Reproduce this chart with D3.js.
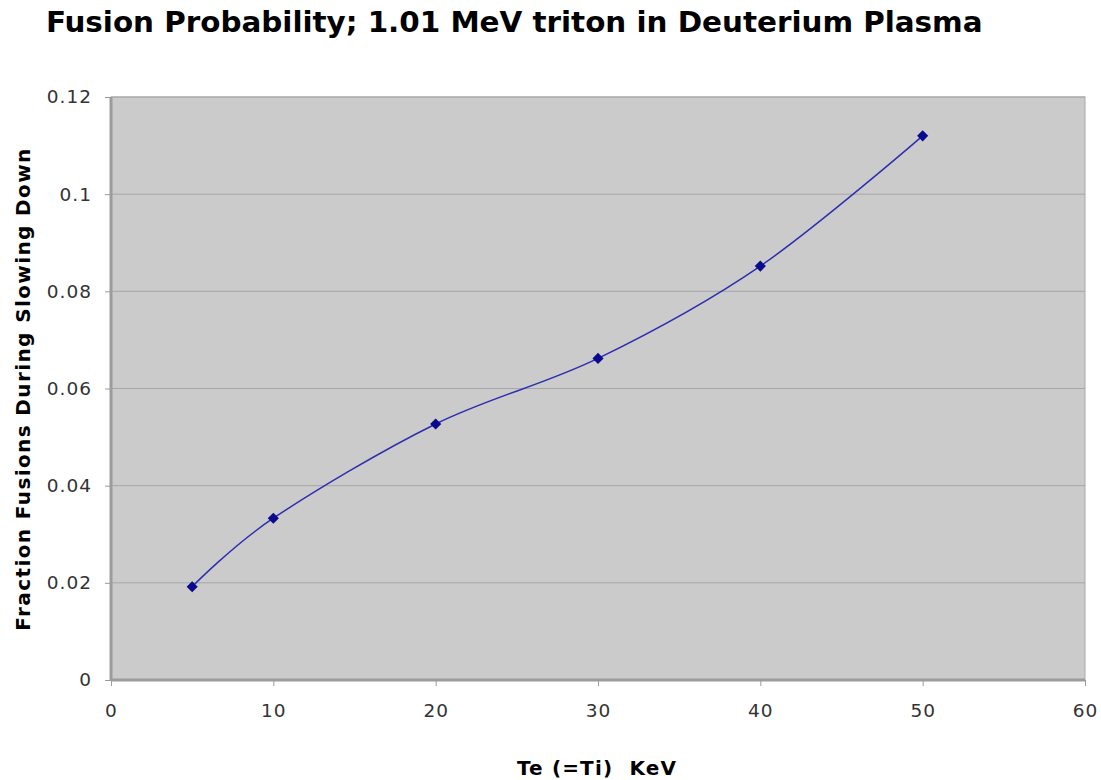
<!DOCTYPE html>
<html><head><meta charset="utf-8">
<script src="https://cdn.jsdelivr.net/npm/d3@7"></script>
<style>
body{margin:0;background:#fff;}
svg{display:block;}
text{font-family:"DejaVu Sans",Verdana,sans-serif;}
</style></head>
<body>
<svg id="c" width="1101" height="780"></svg>
<script>
const temps = [5, 10, 20, 30, 40, 50];
const fractions = [0.0192, 0.0333, 0.0527, 0.0662, 0.0852, 0.112];
const xTicks = [0, 10, 20, 30, 40, 50, 60];
const yTicks = [0, 0.02, 0.04, 0.06, 0.08, 0.1, 0.12];
const titleText = "Fusion Probability; 1.01 MeV triton in Deuterium Plasma";
const xLabel = "Te (=Ti)  KeV";
const yLabel = "Fraction Fusions During Slowing Down";

const svg = d3.select("#c");
const L = 111, R = 1085, T = 97, B = 680;
const x = d3.scaleLinear().domain([0, 60]).range([L, R]);
const y = d3.scaleLinear().domain([0, 0.12]).range([B, T]);

svg.append("rect").attr("x", L).attr("y", T).attr("width", R - L).attr("height", B - T)
  .attr("fill", "#cbcbcb").attr("stroke", "#a9a9a9").attr("stroke-width", 1);

// gridlines
svg.append("g").selectAll("line").data(yTicks.filter(d => d > 0)).join("line")
  .attr("x1", L).attr("x2", R).attr("y1", d => y(d)).attr("y2", d => y(d))
  .attr("stroke", "#a6a6a6").attr("stroke-width", 1);

// axes
const yAxis = svg.append("g").attr("transform", `translate(${L},0)`)
  .call(d3.axisLeft(y).tickValues(yTicks).tickFormat(d => String(+d.toFixed(2))).tickSize(6).tickPadding(13));
const xAxis = svg.append("g").attr("transform", `translate(0,${B})`)
  .call(d3.axisBottom(x).tickValues(xTicks).tickFormat(d3.format("d")).tickSize(6).tickPadding(18));
[yAxis, xAxis].forEach(g => {
  g.select(".domain").remove();
  g.selectAll(".tick line").attr("stroke", "#9a9a9a");
  g.selectAll("text").attr("font-size", 18.5).attr("fill", "#333")
   .style("letter-spacing", "1px")
   .style("font-family", '"DejaVu Sans",Verdana,sans-serif');
});

// axis borders
svg.append("line").attr("x1", L).attr("x2", L).attr("y1", T).attr("y2", B + 1)
  .attr("stroke", "#9c9c9c").attr("stroke-width", 3);
svg.append("line").attr("x1", L).attr("x2", R).attr("y1", B).attr("y2", B)
  .attr("stroke", "#9c9c9c").attr("stroke-width", 3);

// line
const pts = temps.map((t, i) => [t, fractions[i]]);
svg.append("path").datum(pts)
  .attr("d", d3.line().x(d => x(d[0])).y(d => y(d[1])).curve(d3.curveCatmullRom.alpha(0)))
  .attr("fill", "none").attr("stroke", "#2e2eb0").attr("stroke-width", 1.5);

svg.append("g").selectAll("path").data(pts).join("path")
  .attr("d", d3.symbol(d3.symbolSquare, 62))
  .attr("transform", d => `translate(${x(d[0])},${y(d[1])}) rotate(45)`)
  .attr("fill", "#0a0a8c");

// title
const title = svg.append("text").attr("x", 0).attr("y", 0)
  .attr("font-size", 24).attr("font-weight", "bold").attr("fill", "#000")
  .style("font-family", '"DejaVu Sans Condensed","DejaVu Sans",sans-serif').text(titleText);
const tw = title.node().getComputedTextLength();
const fs = 24 * 937 / tw;
title.attr("font-size", fs);
const sy = 21 / (0.73 * fs);
title.attr("transform", `translate(46,32) scale(1,${sy})`);

function fitLabel(sel, size, target) {
  sel.attr("font-size", size).style("letter-spacing", "0px");
  const w = sel.node().getComputedTextLength();
  const n = sel.text().length - 1;
  sel.style("letter-spacing", ((target - w) / n) + "px");
}
const xl = svg.append("text").attr("x", 597).attr("y", 775).attr("text-anchor", "middle")
  .attr("font-weight", "bold").style("white-space", "pre").text(xLabel);
fitLabel(xl, 20, 159);

const yl = svg.append("text").attr("transform", "translate(30,389) rotate(-90)").attr("text-anchor", "middle")
  .attr("font-weight", "bold").text(yLabel);
fitLabel(yl, 20, 482);
</script>
</body></html>
